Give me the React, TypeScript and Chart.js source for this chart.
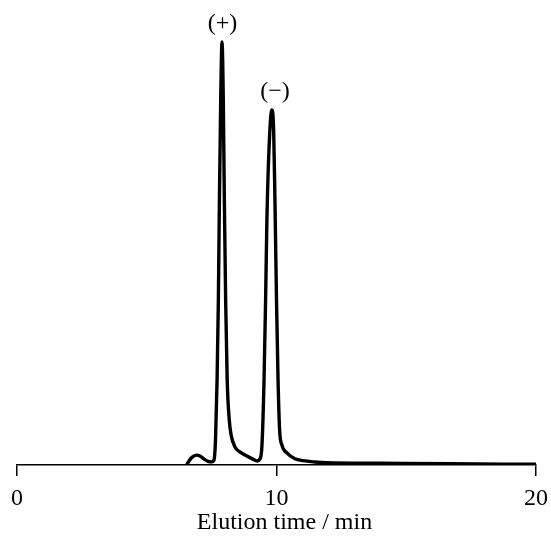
import React, { useEffect, useRef } from "react";
import { Chart, registerables } from "chart.js";

Chart.register(...registerables);

// Elution time (min) and detector signal (relative units, 0-100)
const times = [
  6.54, 6.63, 6.74, 6.92, 7.05, 7.21, 7.36, 7.51, 7.59, 7.65, 7.71, 7.76, 7.8, 7.85, 7.9,
  7.95, 7.99, 8.04, 8.1, 8.18, 8.25, 8.4, 8.59, 8.86, 9.09, 9.25, 9.36, 9.44, 9.52, 9.58,
  9.63, 9.71, 9.82, 9.89, 9.94, 10.0, 10.06, 10.12, 10.21, 10.4, 10.71, 11.02, 11.48, 11.95,
  13.99, 16.7, 20.0,
];
const signal = [
  0.0, 0.9, 1.7, 2.2, 2.0, 1.3, 0.8, 0.7, 1.1, 5.6, 18.9, 36.7, 58.9, 81.1, 94.0,
  81.1, 58.9, 36.7, 18.9, 10.0, 6.7, 4.0, 2.9, 2.0, 1.3, 0.9, 1.3, 4.4, 18.9, 36.7,
  54.4, 70.0, 78.9, 74.4, 58.9, 36.7, 18.9, 7.8, 4.4, 2.7, 1.4, 0.96, 0.67, 0.5,
  0.38, 0.27, 0.16,
];

const xTicks = [0, 10, 20];
const xTitle = "Elution time / min";

// Peak annotations
const peakLabels = ["(+)", "(\u2212)"];
const peakLabelTimes = [7.92, 9.94];
const peakLabelLevels = [96.7, 81.6];

const FONT = "'Liberation Serif', 'Times New Roman', serif";

const annotationPlugin = {
  id: "annotations",
  afterDraw(chart: any) {
    const { ctx, scales, chartArea } = chart;
    ctx.save();
    ctx.fillStyle = "#000";
    ctx.font = `24px ${FONT}`;
    ctx.textAlign = "center";
    ctx.textBaseline = "alphabetic";
    peakLabels.forEach((label, i) => {
      const x = scales.x.getPixelForValue(peakLabelTimes[i]);
      const y = scales.y.getPixelForValue(peakLabelLevels[i]);
      ctx.fillText(label, x, y);
    });
    // axis title, slightly right of centre as in the original figure
    ctx.textBaseline = "middle";
    const cx = (chartArea.left + chartArea.right) / 2 + 8;
    ctx.fillText(xTitle, cx, scales.x.bottom - 17);
    ctx.restore();
  },
};

export default function App() {
  const canvasRef = useRef<HTMLCanvasElement | null>(null);

  useEffect(() => {
    if (!canvasRef.current) return;
    const points = times.map((t, i) => ({ x: t, y: signal[i] }));
    const chart = new Chart(canvasRef.current, {
      type: "line",
      data: {
        datasets: [
          {
            data: points,
            borderColor: "#000",
            borderWidth: 3.4,
            pointRadius: 0,
            fill: false,
            cubicInterpolationMode: "monotone",
          },
        ],
      },
      options: {
        animation: false,
        responsive: true,
        maintainAspectRatio: false,
        layout: { padding: { left: 17, right: 15, top: 15, bottom: 0 } },
        plugins: { legend: { display: false }, tooltip: { enabled: false } },
        scales: {
          x: {
            type: "linear",
            min: 0,
            max: 20,
            afterBuildTicks: (scale: any) => {
              scale.ticks = xTicks.map((v) => ({ value: v }));
            },
            afterFit: (scale: any) => {
              scale.height = 75;
              scale.paddingLeft = 0;
              scale.paddingRight = 0;
            },
            ticks: {
              color: "#000",
              padding: 8,
              maxRotation: 0,
              font: { family: FONT, size: 24 },
            },
            grid: {
              drawOnChartArea: false,
              drawTicks: true,
              tickLength: 11,
              color: "#000",
              lineWidth: 1.5,
            },
            border: { display: true, color: "#000", width: 1.5 },
            title: { display: false },
          },
          y: { display: false, min: 0, max: 100 },
        },
      },
      plugins: [annotationPlugin],
    });
    return () => chart.destroy();
  }, []);

  return (
    <div
      style={{
        position: "fixed",
        left: 0,
        top: 0,
        width: 551,
        height: 540,
        background: "#fff",
      }}
    >
      <canvas ref={canvasRef} />
    </div>
  );
}
